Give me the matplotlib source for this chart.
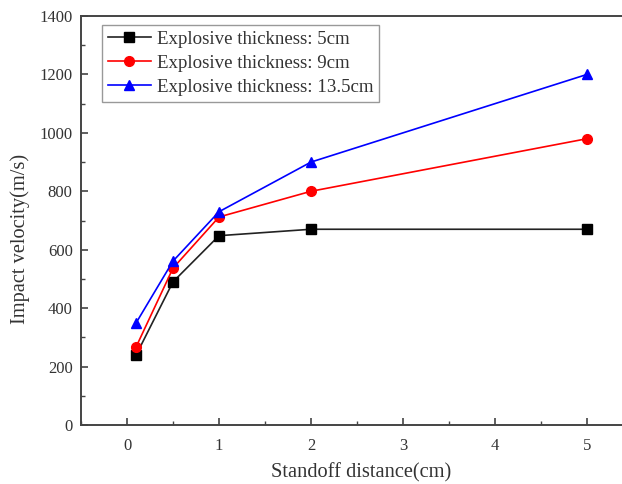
import matplotlib
matplotlib.use("Agg")
import matplotlib.pyplot as plt
from matplotlib.ticker import MultipleLocator

# Standoff distance (cm) and impact velocity (m/s) for each explosive thickness
standoff = [0.1, 0.5, 1, 2, 5]
v_5cm = [240, 490, 648, 670, 670]
v_9cm = [268, 537, 712, 800, 980]
v_13_5cm = [350, 561, 730, 900, 1200]
labels = ["Explosive thickness: 5cm", "Explosive thickness: 9cm", "Explosive thickness: 13.5cm"]

plt.rcParams["font.family"] = ["Liberation Serif", "DejaVu Serif"]
plt.rcParams["mathtext.fontset"] = "stix"

fig = plt.figure(figsize=(6.22, 4.84), dpi=100)
W, H = 622, 484
ax = fig.add_axes([81 / W, (H - 425) / H, 552 / W, (425 - 16) / H])

ax.plot(standoff, v_5cm, color="#222222", lw=1.2, marker="s", ms=6.5, mfc="black", mec="black", label=labels[0])
ax.plot(standoff, v_9cm, color="red", lw=1.2, marker="o", ms=7, mfc="red", mec="red", label=labels[1])
ax.plot(standoff, v_13_5cm, color="blue", lw=1.2, marker="^", ms=7.5, mfc="blue", mec="blue", label=labels[2])

ax.set_xlim(-0.5, 5.5)
ax.set_ylim(0, 1400)
ax.xaxis.set_major_locator(MultipleLocator(1))
ax.xaxis.set_minor_locator(MultipleLocator(0.5))
ax.yaxis.set_major_locator(MultipleLocator(200))
ax.yaxis.set_minor_locator(MultipleLocator(100))

spine_c = "#444444"
for s in ax.spines.values():
    s.set_color(spine_c)
    s.set_linewidth(1.4)
ax.spines["right"].set_visible(False)

ax.tick_params(which="both", direction="in", color=spine_c, labelcolor="#333333",
               top=False, right=False, labelsize=12)
ax.tick_params(which="major", length=5, width=1.2)
ax.tick_params(which="minor", length=3, width=1.0)
ax.tick_params(axis="x", pad=9)
ax.tick_params(axis="y", pad=6)

ax.set_xlabel("Standoff distance(cm)", fontsize=14.7, color="#333333")
ax.set_ylabel("Impact velocity(m/s)", fontsize=14.7, color="#333333")
ax.xaxis.label.set_va("center")
ax.yaxis.label.set_va("center")
ax.xaxis.set_label_coords(0.507, -0.117)
ax.yaxis.set_label_coords(-0.1105, 0.456)

leg = ax.legend(loc="upper left", bbox_to_anchor=(21 / 552, 1 - 9 / 409), fontsize=13.6,
                frameon=True, fancybox=False, edgecolor="#999999", framealpha=1,
                borderpad=0.3, labelspacing=0.36, handlelength=2.3, handletextpad=0.3,
                borderaxespad=0)
leg.get_frame().set_linewidth(1.0)
for t in leg.get_texts():
    t.set_color("#333333")

fig.savefig("out.png", dpi=100)
